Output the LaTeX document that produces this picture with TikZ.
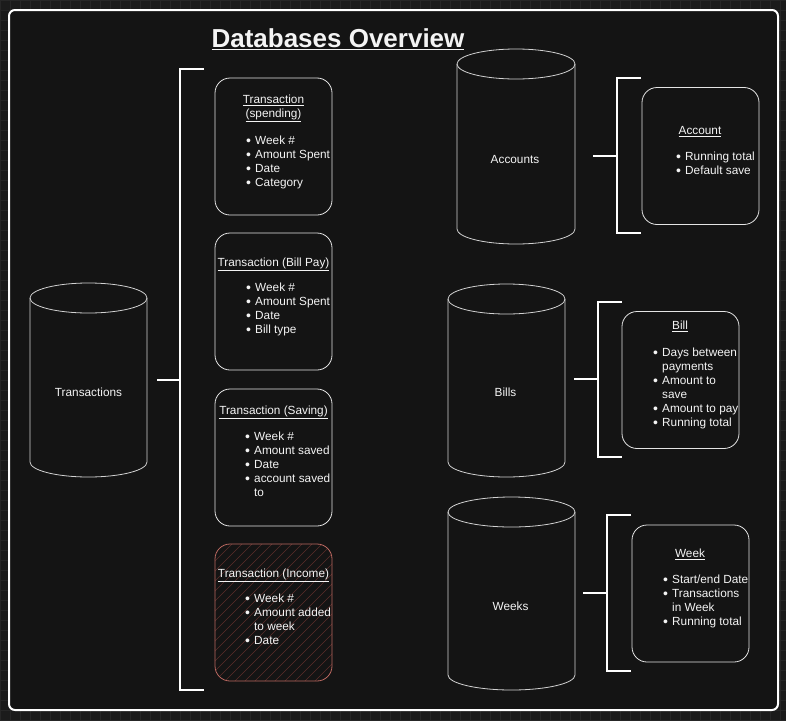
\documentclass[tikz,border=0pt]{standalone}
\usepackage{fontspec}
\setmainfont{Liberation Sans}

\definecolor{bgout}{HTML}{1B1B1B}
\definecolor{gridc}{HTML}{262626}
\definecolor{panel}{HTML}{141414}
\definecolor{txt}{HTML}{F4F4F4}
\definecolor{cylc}{HTML}{D2D2D2}
\definecolor{boxc}{HTML}{E4E4E4}
\definecolor{incc}{HTML}{BA6860}
\definecolor{hatchc}{HTML}{5C2D2A}

% bullet and continuation line for the lists
\newcommand{\bul}{\strut\makebox[9pt][l]{\raisebox{-0.9pt}{\fontsize{14}{14}\selectfont\textbullet}}}
\newcommand{\cnt}{\strut\hspace*{9pt}}

% database cylinder: left, right, top, bottom
\newcommand{\dbcyl}[4]{%
  \draw[cyl] (#1,#3+15) -- (#1,#4-15)
    arc[start angle=180, end angle=0, x radius={(#2-#1)/2}, y radius=15] -- (#2,#3+15);
  \draw[cyl] ({(#1+#2)/2},#3+15) ellipse[x radius={(#2-#1)/2}, y radius=15];}

\begin{document}
\begin{tikzpicture}
        [
        x=1pt, y=-1pt,
        gridln/.style={draw=gridc, line width=0.5pt},
        frame/.style={draw=white, line width=2pt, fill=panel, rounded corners=6pt},
        cyl/.style={draw=cylc, line width=0.8pt},
        card/.style={rectangle, rounded corners=15pt, draw=boxc, line width=0.8pt,
                     minimum width=117pt, minimum height=137pt, inner sep=0pt},
        inc/.style={card, draw=incc},
        hatch/.style={draw=hatchc, line width=0.6pt},
        brk/.style={draw=white, line width=1.6pt},
        lbl/.style={font=\fontsize{11.8}{14}\selectfont, text=txt, inner sep=0pt},
        ttl/.style={lbl, anchor=north, align=center},
        lst/.style={lbl, anchor=north west, align=left},
        dbl/.style={lbl, anchor=base},
        ]
                % background
                \useasboundingbox[fill=bgout] (0,0) rectangle (786,720);
                \foreach \gx in {0,10,...,780} \draw[gridln] (\gx,0) -- (\gx,720);
                \foreach \gy in {0,10,...,720} \draw[gridln] (0,\gy) -- (786,\gy);
                \draw[frame] (9,10) rectangle (778,710);

                % title
                \node[lbl, anchor=base, font=\bfseries\fontsize{26}{30}\selectfont] (head) at (338,47.5)
                        {\underline{Databases Overview}};

                % databases
                \dbcyl{30}{147}{283}{477}
                \dbcyl{457}{575}{49}{244}
                \dbcyl{448}{565}{284}{477}
                \dbcyl{448}{575}{497}{690}
                \node[dbl] (txdb) at (88.5,396) {Transactions};
                \node[dbl] (acdb) at (515,163) {Accounts};
                \node[dbl] (bldb) at (505.5,396) {Bills};
                \node[dbl] (wkdb) at (510.5,610) {Weeks};

                % hatching of the income card
                \begin{scope}
                        \clip[rounded corners=15pt] (215,544) rectangle (332,681);
                        \foreach \k in {0,...,26} \draw[hatch] (75+\k*10,681) -- ++(140,-140);
                \end{scope}

                % cards
                \node[card] (spend)   at (273.5,146.5) {};
                \node[card] (billpay) at (273.5,301.5) {};
                \node[card] (saving)  at (273.5,457.5) {};
                \node[inc]  (income)  at (273.5,612.5) {};
                \node[card] (acct)    at (700.5,156)   {};
                \node[card] (bill)    at (680.5,380)   {};
                \node[card] (week)    at (690.5,593.5) {};

                % card texts
                \node[ttl] (spend-t) at (273.5,93.4) {\strut\underline{Transaction}\\\underline{(spending)}};
                \node[lst] (spend-l) at (246,134.4) {\bul Week \#\\\bul Amount Spent\\\bul Date\\\bul Category};
                \node[ttl] (billpay-t) at (273.5,256.4) {\strut\underline{Transaction (Bill Pay)}};
                \node[lst] (billpay-l) at (246,281.4) {\bul Week \#\\\bul Amount Spent\\\bul Date\\\bul Bill type};
                \node[ttl] (saving-t) at (273.5,404.4) {\strut\underline{Transaction (Saving)}};
                \node[lst] (saving-l) at (245,430.4) {\bul Week \#\\\bul Amount saved\\\bul Date\\\bul account saved\\\cnt to};
                \node[ttl] (income-t) at (273.5,567.4) {\strut\underline{Transaction (Income)}};
                \node[lst] (income-l) at (245,592.4) {\bul Week \#\\\bul Amount added\\\cnt to week\\\bul Date};
                \node[ttl] (acct-t) at (700,124.4) {\strut\underline{Account}};
                \node[lst] (acct-l) at (676,150.4) {\bul Running total\\\bul Default save};
                \node[ttl] (bill-t) at (680,319.4) {\strut\underline{Bill}};
                \node[lst] (bill-l) at (653,346.4) {\bul Days between\\\cnt payments\\\bul Amount to\\\cnt save\\\bul Amount to pay\\\bul Running total};
                \node[ttl] (week-t) at (690,547.4) {\strut\underline{Week}};
                \node[lst] (week-l) at (663,573.4) {\bul Start/end Date\\\bul Transactions\\\cnt in Week\\\bul Running total};

                % brackets
                \coordinate (t-top) at (180,69);  \coordinate (t-bot) at (180,690); \coordinate (t-out) at (157,380);
                \coordinate (a-top) at (617,78);  \coordinate (a-bot) at (617,233); \coordinate (a-out) at (593,156);
                \coordinate (b-top) at (598,302); \coordinate (b-bot) at (598,457); \coordinate (b-out) at (574,379);
                \coordinate (w-top) at (607,515); \coordinate (w-bot) at (607,671); \coordinate (w-out) at (583,593);

                % drawing code
                \foreach \b in {t,a,b,w} \draw[brk] ([xshift=24pt]\b-top) -- (\b-top) -- (\b-bot) -- ([xshift=24pt]\b-bot);
                \foreach \b in {t,a,b,w} \draw[brk] (\b-out) -- (\b-top |- \b-out);
        \end{tikzpicture}
\end{document}
